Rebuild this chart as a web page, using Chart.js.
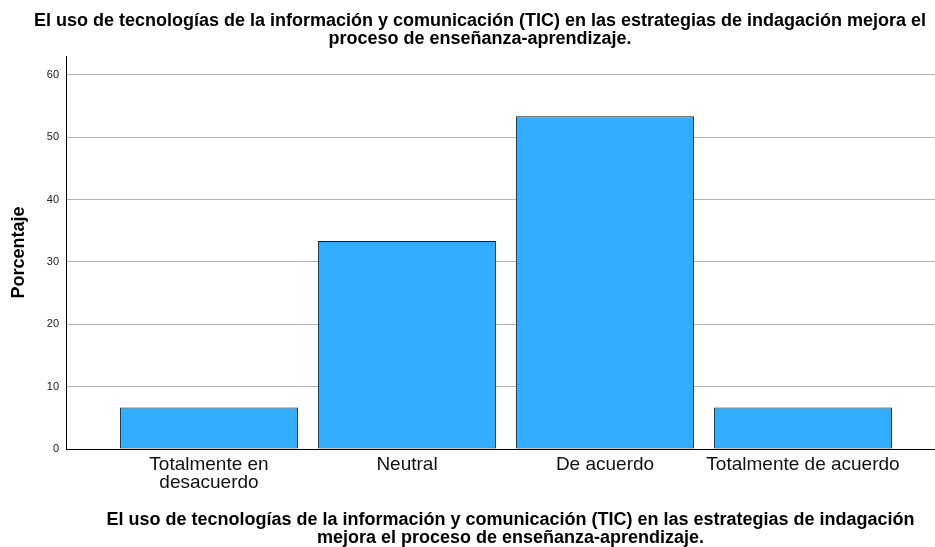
<!DOCTYPE html>
<html>
<head>
<meta charset="utf-8">
<script src="https://cdn.jsdelivr.net/npm/chart.js@4"></script>
<style>
  html, body { margin: 0; padding: 0; background: #fff; }
  #wrap { position: relative; width: 935px; height: 547px; }
</style>
</head>
<body>
<div id="wrap"><canvas id="chart"></canvas></div>
<script>
// datos
const categories = [["Totalmente en", "desacuerdo"], "Neutral", "De acuerdo", "Totalmente de acuerdo"];
const porcentajes = [6.67, 33.33, 53.33, 6.67];
const yTicks = [0, 10, 20, 30, 40, 50, 60];

// los espacios iniciales desplazan un poco el texto centrado, como en el original
const titulo = [
  "     El uso de tecnologías de la información y comunicación (TIC) en las estrategias de indagación mejora el",
  "     proceso de enseñanza-aprendizaje."
];
const tituloEje = [
  "    El uso de tecnologías de la información y comunicación (TIC) en las estrategias de indagación",
  "    mejora el proceso de enseñanza-aprendizaje."
];

const FONT = "'Liberation Sans', Arial, sans-serif";
Chart.defaults.font.family = FONT;
Chart.defaults.color = "#222";

const ctx = document.getElementById("chart").getContext("2d");

new Chart(ctx, {
  type: "bar",
  data: {
    datasets: [{
      data: porcentajes.map((v, i) => ({ x: i, y: v })),
      backgroundColor: "#33adff",
      borderColor: "#1a1a1a",
      borderWidth: 1,
      borderSkipped: false,
      categoryPercentage: 1,
      barPercentage: 0.9,
    }],
  },
  options: {
    responsive: true,
    maintainAspectRatio: false,
    animation: false,
    layout: { padding: 0 },
    plugins: {
      legend: { display: false },
      tooltip: { enabled: false },
      title: {
        display: true,
        text: titulo,
        color: "#000",
        font: { size: 18, weight: "bold", lineHeight: 1.0 },
        padding: { top: 12, bottom: 8 },
      },
    },
    scales: {
      x: {
        type: "linear",
        offset: false,
        min: -0.5 - 44 / 198,
        max: 3.5 + 33 / 198,
        afterFit: (s) => { s.height = 98; },
        grid: { display: false, drawTicks: false },
        border: { display: true, color: "#000", width: 1 },
        ticks: {
          stepSize: 1,
          includeBounds: false,
          autoSkip: false,
          maxRotation: 0,
          padding: 7,
          color: "#111",
          font: { size: 19, lineHeight: 0.95 },
          callback: (v) => (Number.isInteger(v) && categories[v] !== undefined ? categories[v] : ""),
        },
        title: {
          display: true,
          text: tituloEje,
          color: "#000",
          font: { size: 18, weight: "bold", lineHeight: 1.0 },
          padding: { top: 19, bottom: 0 },
        },
      },
      y: {
        min: 0,
        max: 63,
        afterFit: (s) => { s.width = 66; },
        afterBuildTicks: (s) => { s.ticks = yTicks.map((v) => ({ value: v })); },
        grid: { color: "#b4b4b4", lineWidth: 1, drawTicks: false },
        border: { display: true, color: "#000", width: 1 },
        ticks: {
          padding: 7,
          color: "#222",
          font: { size: 11 },
        },
        title: {
          display: true,
          text: "Porcentaje",
          color: "#000",
          font: { size: 18, weight: "bold", lineHeight: 1.0 },
          padding: { top: 10, bottom: 4 },
        },
      },
    },
  },
});
</script>
</body>
</html>
